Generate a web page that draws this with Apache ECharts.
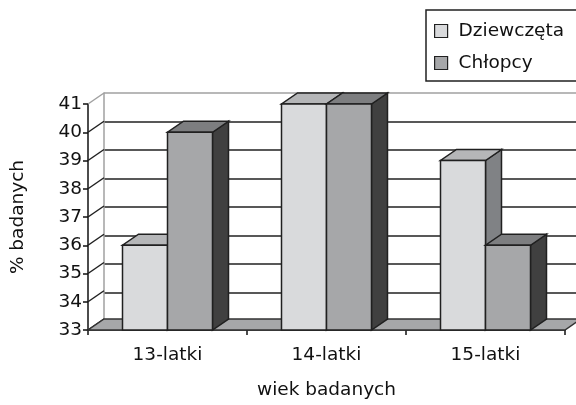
<!DOCTYPE html>
<html>
<head>
<meta charset="utf-8">
<script src="https://cdn.jsdelivr.net/npm/echarts@6/dist/echarts.min.js"></script>
<style>
  html, body { margin: 0; padding: 0; background: #fff; }
  #chart { width: 576px; height: 405px; }
</style>
</head>
<body>
<div id="chart"></div>
<script>
// Data
const categories = ['13-latki', '14-latki', '15-latki'];
const seriesNames = ['Dziewczęta', 'Chłopcy'];
const girls = [36, 41, 39];
const boys = [40, 41, 36];
const yTicks = [33, 34, 35, 36, 37, 38, 39, 40, 41];

// Look of the pseudo-3D box
const DX = 16, DY = 11;          // depth offset of the back plane
const BAR_RATIO = 0.283;         // bar width relative to the category band
const FONT = 'DejaVu Sans';
const FS = 18.5;
const TEXT = '#111';
const EDGE = '#202020';
const LW = 1.5;
const palette = {
  girls: { front: '#d9dadc', top: '#b5b6b8', side: '#808285' },
  boys:  { front: '#a6a7a9', top: '#7d7e80', side: '#404040' }
};

const yMin = yTicks[0], yMax = yTicks[yTicks.length - 1];

function barRenderer(slot, col) {
  return function (params, api) {
    const cat = api.value(0), val = api.value(1);
    const top = api.coord([cat, val]);
    const base = api.coord([cat, yMin]);
    const w = api.size([1, 0])[0] * BAR_RATIO;
    const x0 = top[0] - w + slot * w, x1 = x0 + w;
    const yt = top[1], yb = base[1];
    const style = (fill) => ({ fill: fill, stroke: EDGE, lineWidth: LW, lineJoin: 'miter' });
    return {
      type: 'group',
      children: [
        { type: 'polygon', shape: { points: [[x1, yt], [x1 + DX, yt - DY], [x1 + DX, yb - DY], [x1, yb]] }, style: style(col.side) },
        { type: 'polygon', shape: { points: [[x0, yt], [x1, yt], [x1 + DX, yt - DY], [x0 + DX, yt - DY]] }, style: style(col.top) },
        { type: 'rect', shape: { x: x0, y: yt, width: w, height: yb - yt }, style: style(col.front) }
      ]
    };
  };
}

const chart = echarts.init(document.getElementById('chart'), null, { renderer: 'canvas' });

const gridLineColors = yTicks.map((v, i) => (i === yTicks.length - 1 ? '#a0a0a0' : EDGE));

chart.setOption({
  animation: false,
  backgroundColor: '#fff',
  textStyle: { fontFamily: FONT },
  grid: [
    { left: 88, top: 104, width: 477, height: 228 },   // front plane
    { left: 104, top: 93, width: 477, height: 228 }    // back wall
  ],
  legend: {
    orient: 'vertical',
    left: 426, top: 10,
    padding: [11, 16, 8, 8],
    itemGap: 12,
    itemWidth: 13, itemHeight: 13,
    borderColor: EDGE, borderWidth: 1.5,
    icon: 'rect',
    itemStyle: { borderColor: EDGE, borderWidth: 1.2 },
    textStyle: { fontFamily: FONT, fontSize: FS, color: TEXT, lineHeight: 20, padding: [0, 0, 0, 6] },
    data: seriesNames
  },
  xAxis: [
    {
      type: 'category', gridIndex: 0, data: categories, boundaryGap: true,
      axisLine: { show: true, lineStyle: { color: '#111', width: LW } },
      axisTick: { show: true, length: 5, lineStyle: { color: '#111', width: LW } },
      axisLabel: { fontFamily: FONT, fontSize: FS, color: TEXT, margin: 16 },
      name: 'wiek badanych', nameLocation: 'middle', nameGap: 51,
      nameTextStyle: { fontFamily: FONT, fontSize: FS, color: TEXT }
    },
    { type: 'category', gridIndex: 1, data: categories, show: false }
  ],
  yAxis: [
    {
      type: 'value', gridIndex: 0, min: yMin, max: yMax, interval: 1,
      axisLine: { show: true, lineStyle: { color: '#111', width: LW } },
      axisTick: { show: true, length: 5, lineStyle: { color: '#111', width: LW } },
      splitLine: { show: false },
      axisLabel: { fontFamily: FONT, fontSize: FS, color: TEXT, margin: 6 },
      name: '% badanych', nameLocation: 'middle', nameRotate: 90, nameGap: 60,
      nameTextStyle: { fontFamily: FONT, fontSize: FS, color: TEXT }
    },
    {
      type: 'value', gridIndex: 1, min: yMin, max: yMax, interval: 1,
      axisLine: { show: true, lineStyle: { color: '#a0a0a0', width: LW } },
      axisTick: { show: false }, axisLabel: { show: false },
      splitLine: { show: true, lineStyle: { color: gridLineColors, width: LW } }
    }
  ],
  series: [
    {
      // left wall: diagonals joining front ticks to the back wall grid
      type: 'custom', name: 'wall', xAxisIndex: 0, yAxisIndex: 0, z: 1, silent: true,
      data: yTicks.map(v => [0, v]),
      renderItem: function (params, api) {
        const v = api.value(1);
        const y = api.coord([0, v])[1];
        const x = params.coordSys.x;
        const last = v === yMax;
        return {
          type: 'line',
          shape: { x1: x, y1: y, x2: x + DX, y2: y - DY },
          style: { stroke: last ? '#a0a0a0' : EDGE, lineWidth: LW }
        };
      }
    },
    {
      // floor
      type: 'custom', name: 'floor', xAxisIndex: 0, yAxisIndex: 0, z: 1, silent: true,
      data: [[0, yMin]],
      renderItem: function (params, api) {
        const cs = params.coordSys;
        const y = api.coord([0, yMin])[1];
        return {
          type: 'polygon',
          shape: { points: [[cs.x, y], [cs.x + cs.width, y], [cs.x + cs.width + DX, y - DY], [cs.x + DX, y - DY]] },
          style: { fill: '#a6a7a9', stroke: '#333', lineWidth: LW }
        };
      }
    },
    {
      type: 'custom', name: seriesNames[0], xAxisIndex: 0, yAxisIndex: 0, z: 3,
      itemStyle: { color: palette.girls.front },
      encode: { x: 0, y: 1 },
      data: girls.map((v, i) => [i, v]),
      renderItem: barRenderer(0, palette.girls)
    },
    {
      type: 'custom', name: seriesNames[1], xAxisIndex: 0, yAxisIndex: 0, z: 4,
      itemStyle: { color: palette.boys.front },
      encode: { x: 0, y: 1 },
      data: boys.map((v, i) => [i, v]),
      renderItem: barRenderer(1, palette.boys)
    }
  ]
});
</script>
</body>
</html>
